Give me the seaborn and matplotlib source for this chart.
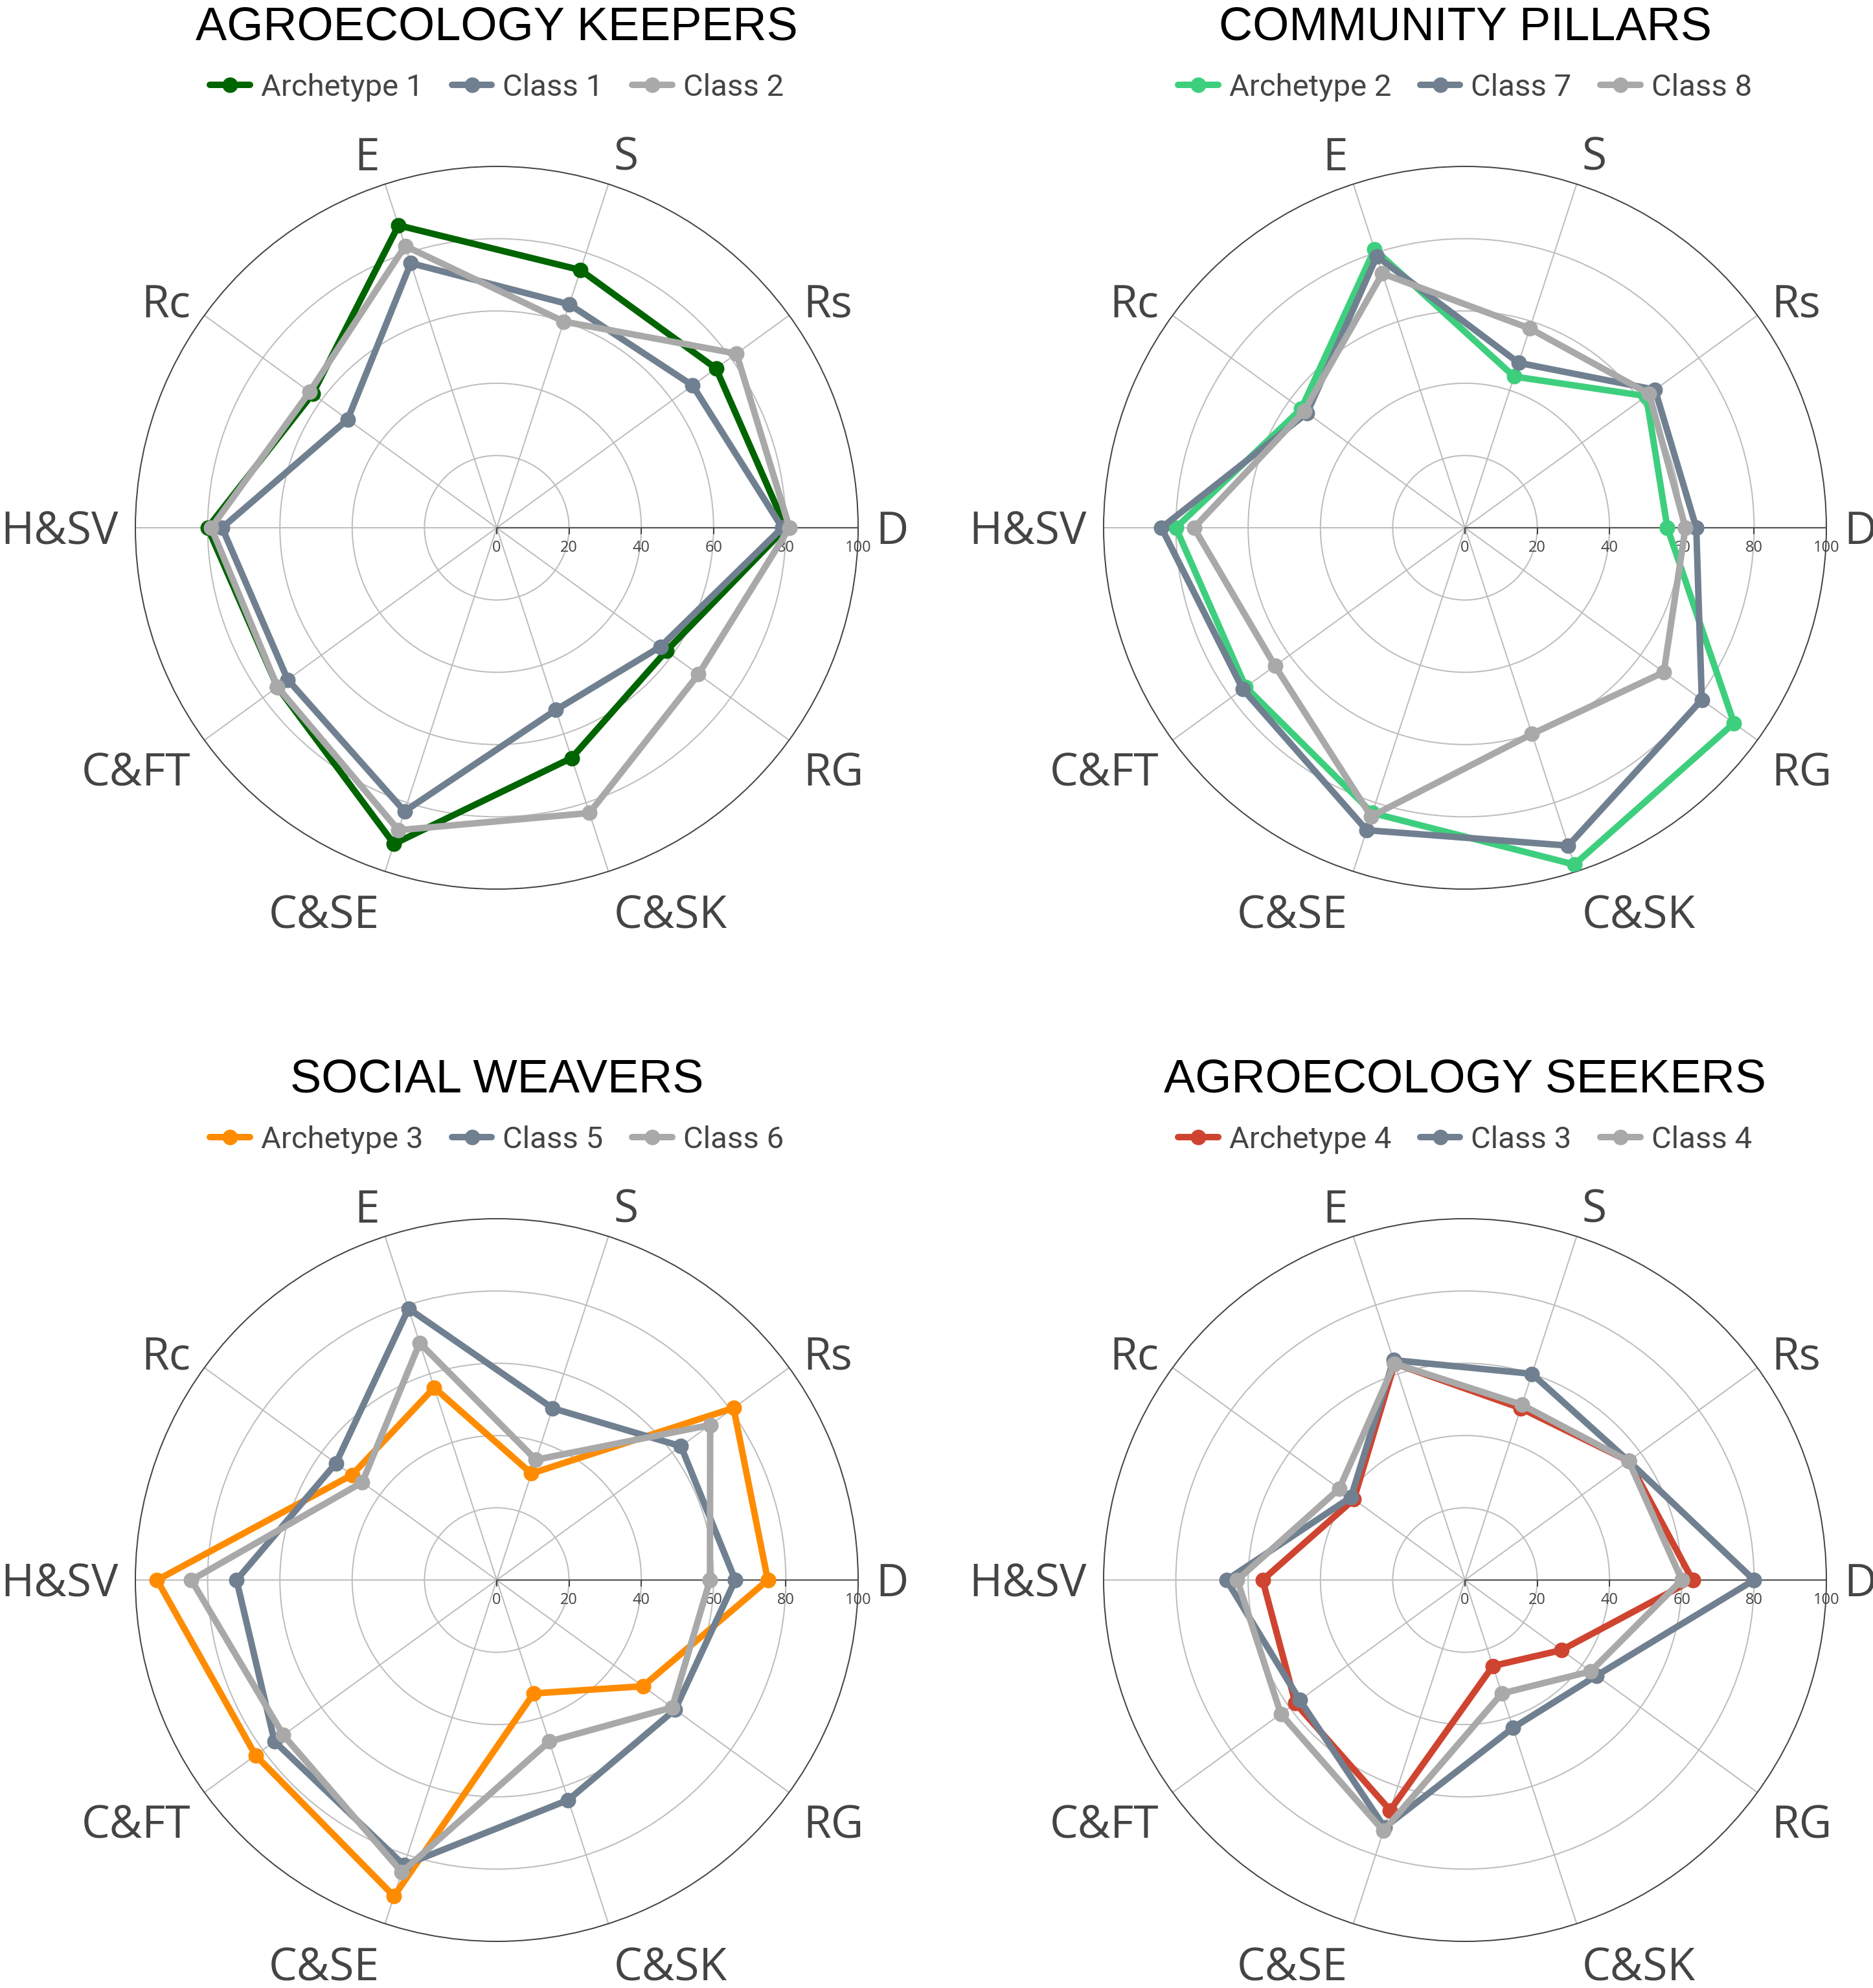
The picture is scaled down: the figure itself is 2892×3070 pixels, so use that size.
import numpy as np
import pandas as pd
import matplotlib
matplotlib.use("Agg")
import matplotlib.pyplot as plt
import seaborn as sns
from matplotlib.lines import Line2D

# ---------------- data ----------------
categories = ["D", "Rs", "S", "E", "Rc", "H&SV", "C&FT", "C&SE", "C&SK", "RG"]
radial_ticks = [0, 20, 40, 60, 80, 100]

titles = ["AGROECOLOGY KEEPERS", "COMMUNITY PILLARS", "SOCIAL WEAVERS", "AGROECOLOGY SEEKERS"]
series_names = [
    ["Archetype 1", "Class 1", "Class 2"],
    ["Archetype 2", "Class 7", "Class 8"],
    ["Archetype 3", "Class 5", "Class 6"],
    ["Archetype 4", "Class 3", "Class 4"],
]

archetype1 = [80, 75, 75, 88, 63, 80, 75, 92, 67, 58]
class1 = [79, 67, 65, 77, 51, 76, 71.5, 82.5, 53, 56]
class2 = [81, 82, 60, 82, 64, 79, 75, 88, 83, 69]

archetype2 = [56, 62, 44, 81, 56, 80, 75, 83, 98, 92]
class7 = [64, 65, 48, 79, 54, 84, 76, 88, 92.5, 81]
class8 = [61, 63, 58, 74, 55, 75, 65, 84, 60, 68]

archetype3 = [75, 81, 31, 56, 49.5, 94, 82.5, 92, 33, 50]
class5 = [66, 63, 50, 79, 55, 72, 76, 83, 64, 61]
class6 = [59, 73, 35, 69, 46, 84.5, 73, 85, 47, 60]

archetype4 = [63, 56, 50, 63, 38, 56, 58, 67, 25, 33]
class3 = [80, 56, 60, 64, 39, 66, 56.5, 72, 43, 45]
class4 = [60, 56, 51, 63, 43, 63, 63, 73, 33, 43]

panel_values = [
    [archetype1, class1, class2],
    [archetype2, class7, class8],
    [archetype3, class5, class6],
    [archetype4, class3, class4],
]
archetype_colors = ["#006400", "#3ECF7E", "#FF8C00", "#CF4430"]
class_a_color = "#708090"
class_b_color = "#A9A9A9"

# ---------------- style ----------------
sns.set_theme(style="white")
plt.rcParams["font.family"] = ["Open Sans", "DejaVu Sans"]

W, H = 2892, 3070
DPI = 100
PX = 72.0 / DPI  # points per pixel
fig = plt.figure(figsize=(W / DPI, H / DPI), dpi=DPI)
fig.patch.set_facecolor("white")

centers = [(767, 815), (2262, 815), (767, 2440), (2262, 2440)]
R = 558

n = len(categories)
theta = np.arange(n) * 2 * np.pi / n
# baseline offset (px, downward) of each category label from anchor point
label_baseline_px = [25, 19, 4, 4, 19, 25, 55, 62, 62, 55]
label_r = 104.8

grid_color = "#BDBDBD"
dark = "#444444"
LW = 10
MS = 24

for p in range(4):
    cx, cy = centers[p]
    ax = fig.add_axes([(cx - R) / W, (H - cy - R) / H, 2 * R / W, 2 * R / H],
                      projection="polar")
    ax.set_facecolor("white")

    # axis line for radial axis (drawn before data)
    ax.axvline(0, color="#555555", lw=2.2 * PX, zorder=1.5)

    rows = []
    for name, vals in zip(series_names[p], panel_values[p]):
        closed_t = list(theta) + [2 * np.pi]
        closed_v = list(vals) + [vals[0]]
        for t, v in zip(closed_t, closed_v):
            rows.append({"theta": t, "value": v, "series": name})
    df = pd.DataFrame(rows)
    palette = {series_names[p][0]: archetype_colors[p],
               series_names[p][1]: class_a_color,
               series_names[p][2]: class_b_color}
    sns.lineplot(data=df, x="theta", y="value", hue="series",
                 hue_order=series_names[p], palette=palette,
                 sort=False, estimator=None, marker="o",
                 markersize=MS * PX, markeredgewidth=0,
                 linewidth=LW * PX, legend=False, ax=ax, zorder=3)

    ax.set_xlabel("")
    ax.set_ylabel("")
    ax.set_ylim(0, 100)
    ax.set_xticks(theta)
    ax.set_xticklabels([])
    ax.set_yticks(radial_ticks[1:-1])
    ax.set_yticklabels([])
    ax.tick_params(axis="x", direction="out", length=11 * PX, width=2 * PX,
                   color=dark, pad=0)
    ax.tick_params(axis="y", length=0)
    ax.xaxis.grid(True, color=grid_color, lw=2 * PX)
    ax.yaxis.grid(True, color=grid_color, lw=2 * PX)
    ax.spines["polar"].set_color(dark)
    ax.spines["polar"].set_linewidth(2 * PX)

    # radial tick marks and labels along D axis
    ax.plot(np.zeros(len(radial_ticks)), radial_ticks, ls="none", marker=3,
            ms=10 * PX, mew=2 * PX, color=dark, clip_on=False, zorder=2)
    for rv in radial_ticks:
        ax.annotate(str(rv), xy=(0, rv), xytext=(0, -31 * PX),
                    textcoords="offset points", ha="center", va="center",
                    fontsize=17, color="#444444", annotation_clip=False,
                    zorder=2)

    # category labels
    for i, (t, lab) in enumerate(zip(theta, categories)):
        c = np.cos(t)
        ha = "left" if c > 0.2 else ("right" if c < -0.2 else "center")
        ax.annotate(lab, xy=(t, label_r), xytext=(0, -label_baseline_px[i] * PX),
                    textcoords="offset points", ha=ha, va="baseline",
                    fontsize=50, color=dark, annotation_clip=False)

    # title
    fig.text(cx / W, 1 - (cy - 754) / H, titles[p], ha="center", va="baseline",
             fontsize=52, color="black", family=["Liberation Sans", "DejaVu Sans"])

    # legend
    handles = [
        Line2D([0], [0], color=palette[nm], lw=LW * PX, marker="o",
               markersize=MS * PX, markeredgewidth=0)
        for nm in series_names[p]
    ]
    leg = fig.legend(handles, series_names[p], loc="center",
                     bbox_to_anchor=(cx / W, 1 - (cy - 680) / H), ncol=3,
                     frameon=False, handlelength=1.3, handletextpad=0.36,
                     columnspacing=0.95,
                     prop={"family": ["Roboto", "DejaVu Sans"], "size": 34})
    for txt in leg.get_texts():
        txt.set_color(dark)

fig.savefig("out.png", dpi=DPI, facecolor="white")
